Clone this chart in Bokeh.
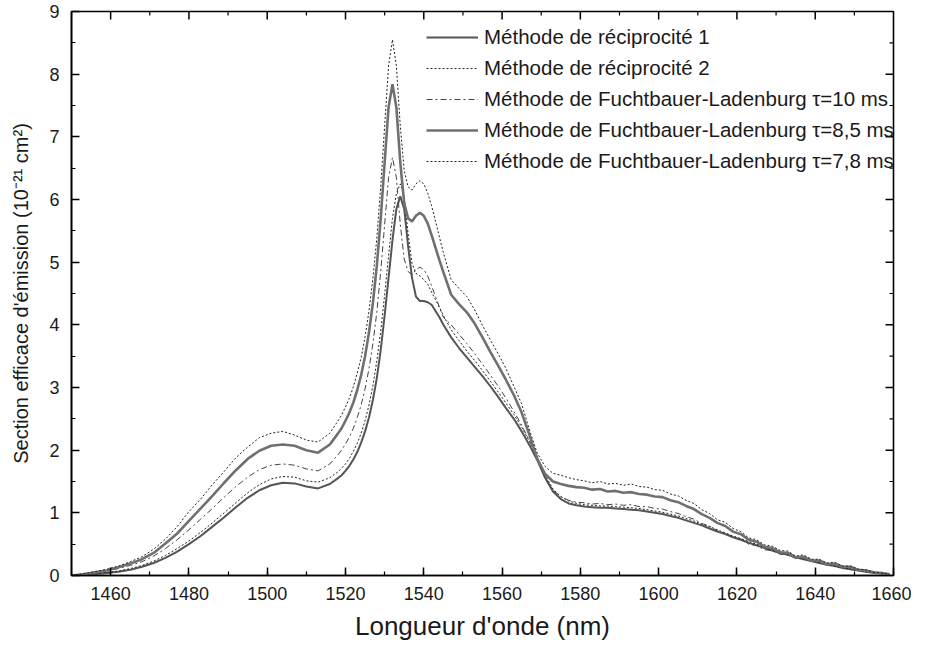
import math
from bokeh.plotting import figure
from bokeh.models import Range1d, SingleIntervalTicker, Legend, LegendItem
from bokeh.embed import file_html
from bokeh.resources import INLINE

wavelength = [1450, 1453, 1456, 1459, 1462, 1465, 1468, 1471, 1474, 1477, 1480, 1483, 1486, 1489, 1492, 1495, 1498, 1501, 1504, 1507, 1510, 1513, 1516,
              1518, 1519, 1520, 1521, 1522, 1523, 1524, 1525, 1526, 1527, 1528, 1529, 1530, 1531, 1532, 1533, 1534, 1535, 1536, 1537, 1538, 1539, 1540, 1541, 1542, 1543, 1544, 1545,
              1547, 1549, 1551, 1553, 1555, 1557, 1559, 1561, 1563, 1565, 1567, 1569, 1571, 1573, 1575, 1577, 1579, 1581, 1583, 1585, 1587, 1589, 1591, 1593, 1595, 1597, 1599,
              1601, 1603, 1605, 1607, 1609, 1611, 1613, 1615, 1617, 1619, 1621, 1623, 1625, 1627, 1629, 1631, 1633, 1635, 1637, 1639, 1641, 1643, 1645, 1647, 1649, 1651, 1653, 1655, 1657, 1659]

rec1 = [0.00, 0.01, 0.02, 0.04, 0.06, 0.09, 0.14, 0.20, 0.28, 0.38, 0.50, 0.63, 0.78, 0.93, 1.09, 1.24, 1.36, 1.44, 1.48, 1.47, 1.42, 1.39, 1.46,
        1.55, 1.60, 1.67, 1.75, 1.85, 1.97, 2.12, 2.30, 2.52, 2.80, 3.15, 3.60, 4.15, 4.75, 5.35, 5.85, 6.05, 5.85, 5.25, 4.75, 4.45, 4.38, 4.38, 4.36, 4.32, 4.22, 4.12, 4.00,
        3.80, 3.63, 3.48, 3.33, 3.18, 3.02, 2.85, 2.67, 2.50, 2.30, 2.08, 1.84, 1.56, 1.34, 1.22, 1.15, 1.12, 1.10, 1.09, 1.08, 1.08, 1.07, 1.06, 1.05, 1.04, 1.02, 1.00,
        0.98, 0.95, 0.92, 0.88, 0.84, 0.80, 0.75, 0.70, 0.66, 0.61, 0.57, 0.52, 0.48, 0.44, 0.40, 0.36, 0.33, 0.29, 0.26, 0.23, 0.20, 0.17, 0.15, 0.12, 0.10, 0.08, 0.06, 0.04, 0.03, 0.02]

rec2 = [0.00, 0.01, 0.03, 0.05, 0.07, 0.11, 0.16, 0.23, 0.32, 0.43, 0.55, 0.69, 0.84, 1.00, 1.16, 1.32, 1.45, 1.54, 1.58, 1.57, 1.51, 1.49, 1.56,
        1.65, 1.71, 1.78, 1.87, 1.98, 2.11, 2.27, 2.47, 2.72, 3.03, 3.42, 3.90, 4.48, 5.10, 5.70, 6.10, 6.25, 6.05, 5.45, 4.98, 4.82, 4.78, 4.72, 4.65, 4.52, 4.40, 4.28, 4.15,
        3.92, 3.75, 3.58, 3.43, 3.27, 3.10, 2.93, 2.75, 2.57, 2.37, 2.14, 1.88, 1.60, 1.38, 1.26, 1.19, 1.15, 1.13, 1.12, 1.11, 1.11, 1.10, 1.09, 1.08, 1.07, 1.05, 1.03,
        1.01, 0.98, 0.95, 0.91, 0.87, 0.82, 0.78, 0.73, 0.68, 0.63, 0.59, 0.54, 0.50, 0.45, 0.41, 0.38, 0.34, 0.30, 0.27, 0.24, 0.21, 0.18, 0.15, 0.13, 0.10, 0.08, 0.06, 0.05, 0.03, 0.02]

fl_10 = [0.00, 0.02, 0.04, 0.07, 0.11, 0.16, 0.22, 0.31, 0.43, 0.57, 0.73, 0.90, 1.07, 1.25, 1.42, 1.57, 1.69, 1.76, 1.78, 1.76, 1.70, 1.67, 1.78,
         1.92, 2.00, 2.10, 2.21, 2.35, 2.52, 2.72, 2.98, 3.30, 3.70, 4.20, 4.85, 5.60, 6.35, 6.67, 6.35, 5.60, 5.05, 4.85, 4.80, 4.88, 4.92, 4.88, 4.78, 4.62, 4.45, 4.28, 4.12,
         4.00, 3.85, 3.70, 3.54, 3.37, 3.20, 3.02, 2.83, 2.62, 2.40, 2.15, 1.86, 1.55, 1.36, 1.26, 1.20, 1.17, 1.16, 1.14, 1.15, 1.13, 1.14, 1.12, 1.13, 1.10, 1.10, 1.07,
         1.06, 1.02, 0.99, 0.94, 0.90, 0.83, 0.79, 0.71, 0.68, 0.61, 0.58, 0.50, 0.48, 0.41, 0.40, 0.34, 0.33, 0.27, 0.28, 0.22, 0.22, 0.17, 0.18, 0.12, 0.13, 0.08, 0.08, 0.04, 0.04, 0.02]

fl_85 = [0.00, 0.02, 0.05, 0.08, 0.13, 0.19, 0.26, 0.36, 0.51, 0.67, 0.87, 1.07, 1.27, 1.48, 1.68, 1.86, 1.99, 2.07, 2.09, 2.07, 2.00, 1.96, 2.09,
         2.26, 2.35, 2.47, 2.60, 2.76, 2.96, 3.20, 3.50, 3.88, 4.35, 4.94, 5.70, 6.59, 7.47, 7.84, 7.47, 6.59, 5.94, 5.70, 5.65, 5.74, 5.79, 5.74, 5.62, 5.43, 5.23, 5.03, 4.84,
         4.48, 4.33, 4.20, 4.02, 3.80, 3.57, 3.35, 3.12, 2.88, 2.60, 2.24, 1.86, 1.62, 1.50, 1.46, 1.43, 1.41, 1.40, 1.37, 1.38, 1.34, 1.35, 1.32, 1.33, 1.30, 1.29, 1.26,
         1.25, 1.20, 1.17, 1.11, 1.06, 0.98, 0.92, 0.84, 0.79, 0.70, 0.66, 0.57, 0.54, 0.46, 0.44, 0.37, 0.36, 0.29, 0.30, 0.24, 0.24, 0.18, 0.19, 0.14, 0.14, 0.09, 0.08, 0.05, 0.04, 0.02]

fl_78 = [0.00, 0.03, 0.06, 0.10, 0.15, 0.22, 0.30, 0.42, 0.58, 0.78, 1.02, 1.22, 1.45, 1.66, 1.88, 2.05, 2.20, 2.27, 2.30, 2.24, 2.16, 2.13, 2.27,
         2.46, 2.56, 2.69, 2.83, 3.01, 3.23, 3.48, 3.81, 4.22, 4.74, 5.38, 6.21, 7.17, 8.13, 8.55, 8.13, 7.17, 6.46, 6.20, 6.15, 6.25, 6.30, 6.25, 6.10, 5.90, 5.65, 5.40, 5.15,
         4.72, 4.58, 4.45, 4.24, 3.99, 3.76, 3.54, 3.30, 3.02, 2.74, 2.32, 1.95, 1.74, 1.63, 1.60, 1.56, 1.53, 1.51, 1.48, 1.50, 1.46, 1.47, 1.44, 1.46, 1.42, 1.41, 1.37,
         1.36, 1.30, 1.27, 1.20, 1.15, 1.05, 0.99, 0.89, 0.85, 0.75, 0.70, 0.60, 0.57, 0.49, 0.47, 0.40, 0.39, 0.31, 0.33, 0.26, 0.26, 0.20, 0.21, 0.15, 0.15, 0.10, 0.09, 0.05, 0.04, 0.02]

labels = ["Méthode de réciprocité 1",
          "Méthode de réciprocité 2",
          "Méthode de Fuchtbauer-Ladenburg τ=10 ms",
          "Méthode de Fuchtbauer-Ladenburg τ=8,5 ms",
          "Méthode de Fuchtbauer-Ladenburg τ=7,8 ms"]

# tick positions for the mirrored (top / right) tick marks
x_major_ticks = [1460, 1480, 1500, 1520, 1540, 1560, 1580, 1600, 1620, 1640]
x_minor_ticks = [1450, 1470, 1490, 1510, 1530, 1550, 1570, 1590, 1610, 1630, 1650]
y_major_ticks = [1, 2, 3, 4, 5, 6, 7, 8]
y_minor_ticks = [0.5, 1.5, 2.5, 3.5, 4.5, 5.5, 6.5, 7.5, 8.5]

FONT = "Liberation Sans"
TXT = "#1a1a1a"

p = figure(width=911, height=644, x_range=Range1d(1450, 1660), y_range=Range1d(0, 9),
           output_backend="svg", toolbar_location=None,
           min_border_left=71, min_border_right=18, min_border_top=11, min_border_bottom=69)
p.grid.visible = False
p.outline_line_color = "black"
p.outline_line_width = 1.6
p.background_fill_color = "white"
p.border_fill_color = "white"

styles = [
    dict(line_color="#555555", line_width=2.0),
    dict(line_color="#222222", line_width=1.0, line_dash="2 2"),
    dict(line_color="#444444", line_width=1.0, line_dash="6 3 2 3"),
    dict(line_color="#707070", line_width=2.6),
    dict(line_color="#222222", line_width=1.0, line_dash="2 2"),
]
series = [rec1, rec2, fl_10, fl_85, fl_78]
renderers = []
for ys, st in zip(series, styles):
    renderers.append(p.line(wavelength, ys, **st))

# mirrored tick marks on the top and right edges of the frame
p.ray(x=x_major_ticks, y=[9] * len(x_major_ticks), length=8, length_units="screen",
      angle=-math.pi / 2, line_color="black", line_width=1.5)
p.ray(x=x_minor_ticks, y=[9] * len(x_minor_ticks), length=4, length_units="screen",
      angle=-math.pi / 2, line_color="black", line_width=1.2)
p.ray(x=[1660] * len(y_major_ticks), y=y_major_ticks, length=8, length_units="screen",
      angle=math.pi, line_color="black", line_width=1.5)
p.ray(x=[1660] * len(y_minor_ticks), y=y_minor_ticks, length=4, length_units="screen",
      angle=math.pi, line_color="black", line_width=1.2)

p.xaxis.ticker = SingleIntervalTicker(interval=20, num_minor_ticks=2)
p.yaxis.ticker = SingleIntervalTicker(interval=1, num_minor_ticks=2)
for ax in (p.xaxis[0], p.yaxis[0]):
    ax.axis_line_color = "black"
    ax.axis_line_width = 1.6
    ax.major_tick_in = 8
    ax.major_tick_out = 0
    ax.minor_tick_in = 4
    ax.minor_tick_out = 0
    ax.major_tick_line_color = "black"
    ax.major_tick_line_width = 1.5
    ax.minor_tick_line_color = "black"
    ax.minor_tick_line_width = 1.2
    ax.major_label_text_font = FONT
    ax.major_label_text_color = TXT
    ax.major_label_text_font_size = "18px"
    ax.axis_label_text_font = FONT
    ax.axis_label_text_font_style = "normal"
    ax.axis_label_text_color = TXT

p.xaxis.major_label_standoff = 11
p.yaxis.major_label_standoff = 12
p.xaxis.axis_label = "Longueur d'onde (nm)"
p.yaxis.axis_label = "Section efficace d'émission (10⁻²¹ cm²)"
p.xaxis.axis_label_text_font_size = "26px"
p.xaxis.axis_label_standoff = 8
p.yaxis.axis_label_text_font_size = "20px"
p.yaxis.axis_label_standoff = 14

legend = Legend(items=[LegendItem(label=l, renderers=[r]) for l, r in zip(labels, renderers)],
                location=(355, 402), glyph_width=52, glyph_height=20, label_height=20,
                label_standoff=6, spacing=7, padding=0, margin=0,
                border_line_alpha=0, background_fill_alpha=0,
                label_text_font=FONT, label_text_font_size="20.5px", label_text_color=TXT)
p.add_layout(legend)

open("out.html", "w").write(file_html(p, INLINE))
